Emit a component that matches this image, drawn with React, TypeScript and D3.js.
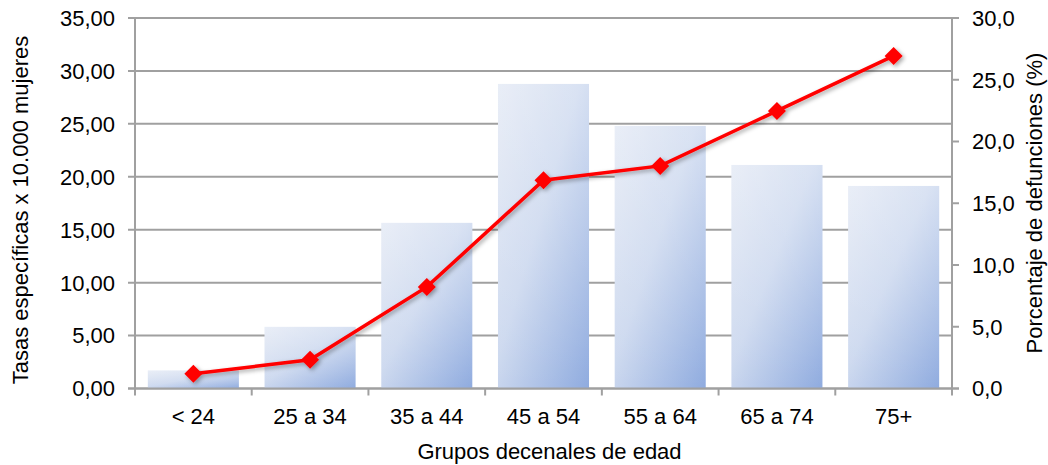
import React from "react";
import * as d3 from "d3";

const categories = ["< 24", "25 a 34", "35 a 44", "45 a 54", "55 a 64", "65 a 74", "75+"];
const porcentajeDefunciones = [1.46, 4.99, 13.41, 24.66, 21.26, 18.1, 16.4];
const tasasEspecificas = [1.39, 2.71, 9.6, 19.68, 21.03, 26.22, 31.42];
const leftTicks = [0, 5, 10, 15, 20, 25, 30, 35];
const rightTicks = [0, 5, 10, 15, 20, 25, 30];

const W = 1048;
const H = 465;
const M = { left: 135, right: 1048 - 952, top: 18, bottom: 465 - 388.5 };

export default function App() {
  const x = d3
    .scaleBand<string>()
    .domain(categories)
    .range([M.left, W - M.right])
    .paddingInner(0.22)
    .paddingOuter(0.11);
  const xOuter = d3.scaleBand<string>().domain(categories).range([M.left, W - M.right]);
  const yL = d3.scaleLinear().domain([0, 35]).range([H - M.bottom, M.top]);
  const yR = d3.scaleLinear().domain([0, 30]).range([H - M.bottom, M.top]);
  const line = d3
    .line<number>()
    .x((_, i) => (xOuter(categories[i]) as number) + xOuter.bandwidth() / 2)
    .y((d) => yL(d));
  const fmtL = (v: number) => v.toFixed(2).replace(".", ",");
  const fmtR = (v: number) => v.toFixed(1).replace(".", ",");
  const font = "'Liberation Sans', Arial, sans-serif";
  const fs = 22;
  const grid = "#a0a0a0";
  const y0 = yL(0);
  const diamond = 9;

  return (
    <svg width={W} height={H} style={{ position: "absolute", left: 0, top: 0, display: "block" }}>
      <defs>
        <linearGradient id="barG" x1="0" y1="0" x2="1" y2="1">
          <stop offset="0" stopColor="#e2e8f4" />
          <stop offset="0.45" stopColor="#cdd9ef" />
          <stop offset="1" stopColor="#8fabdf" />
        </linearGradient>
        <linearGradient id="barV" x1="0" y1="0" x2="0" y2="1">
          <stop offset="0" stopColor="#ffffff" stopOpacity="0.25" />
          <stop offset="1" stopColor="#ffffff" stopOpacity="0" />
        </linearGradient>
        <filter id="shadow" x="-20%" y="-20%" width="140%" height="140%">
          <feDropShadow dx="2" dy="2" stdDeviation="2" floodColor="#000" floodOpacity="0.35" />
        </filter>
      </defs>
      <rect width={W} height={H} fill="#fff" />
      {leftTicks.map((t) => (
        <line key={"g" + t} x1={M.left - 7} x2={W - M.right} y1={yL(t)} y2={yL(t)} stroke={grid} strokeWidth={2} />
      ))}
      {porcentajeDefunciones.map((v, i) => (
        <g key={"b" + i}>
          <rect x={x(categories[i])} y={yR(v)} width={x.bandwidth()} height={y0 - yR(v)} fill="url(#barG)" />
          <rect x={x(categories[i])} y={yR(v)} width={x.bandwidth()} height={y0 - yR(v)} fill="url(#barV)" />
        </g>
      ))}
      <line x1={M.left} x2={M.left} y1={M.top} y2={y0 + 7} stroke={grid} strokeWidth={2} />
      <line x1={W - M.right} x2={W - M.right} y1={M.top} y2={y0 + 7} stroke={grid} strokeWidth={2} />
      <line x1={M.left - 7} x2={W - M.right + 7} y1={y0} y2={y0} stroke={grid} strokeWidth={2} />
      {categories.slice(1).map((c) => (
        <line key={"xt" + c} x1={xOuter(c)} x2={xOuter(c)} y1={y0} y2={y0 + 7} stroke={grid} strokeWidth={2} />
      ))}
      {rightTicks.map((t) => (
        <line key={"rt" + t} x1={W - M.right} x2={W - M.right + 7} y1={yR(t)} y2={yR(t)} stroke={grid} strokeWidth={2} />
      ))}
      <g filter="url(#shadow)">
        <path d={line(tasasEspecificas) || ""} fill="none" stroke="#ff0000" strokeWidth={3.5} />
        {tasasEspecificas.map((v, i) => {
          const cx = (xOuter(categories[i]) as number) + xOuter.bandwidth() / 2;
          const cy = yL(v);
          return (
            <path
              key={"m" + i}
              d={`M${cx},${cy - diamond}L${cx + diamond},${cy}L${cx},${cy + diamond}L${cx - diamond},${cy}Z`}
              fill="#ff0000"
            />
          );
        })}
      </g>
      {leftTicks.map((t) => (
        <text key={"lt" + t} x={M.left - 20} y={yL(t)} dy="0.36em" textAnchor="end" fontFamily={font} fontSize={fs} fill="#000">
          {fmtL(t)}
        </text>
      ))}
      {rightTicks.map((t) => (
        <text key={"rl" + t} x={W - M.right + 20} y={yR(t)} dy="0.36em" textAnchor="start" fontFamily={font} fontSize={fs} fill="#000">
          {fmtR(t)}
        </text>
      ))}
      {categories.map((c) => (
        <text key={"xl" + c} x={(xOuter(c) as number) + xOuter.bandwidth() / 2} y={424} textAnchor="middle" fontFamily={font} fontSize={fs} fill="#000">
          {c}
        </text>
      ))}
      <text x={(M.left + W - M.right) / 2 + 6} y={459} textAnchor="middle" fontFamily={font} fontSize={fs} fill="#000">
        Grupos decenales de edad
      </text>
      <text transform={`translate(28,${210}) rotate(-90)`} textAnchor="middle" fontFamily={font} fontSize={fs} fill="#000">
        Tasas específicas x 10.000 mujeres
      </text>
      <text transform={`translate(1042,${203}) rotate(-90)`} textAnchor="middle" fontFamily={font} fontSize={fs} fill="#000">
        Porcentaje de defunciones (%)
      </text>
    </svg>
  );
}
